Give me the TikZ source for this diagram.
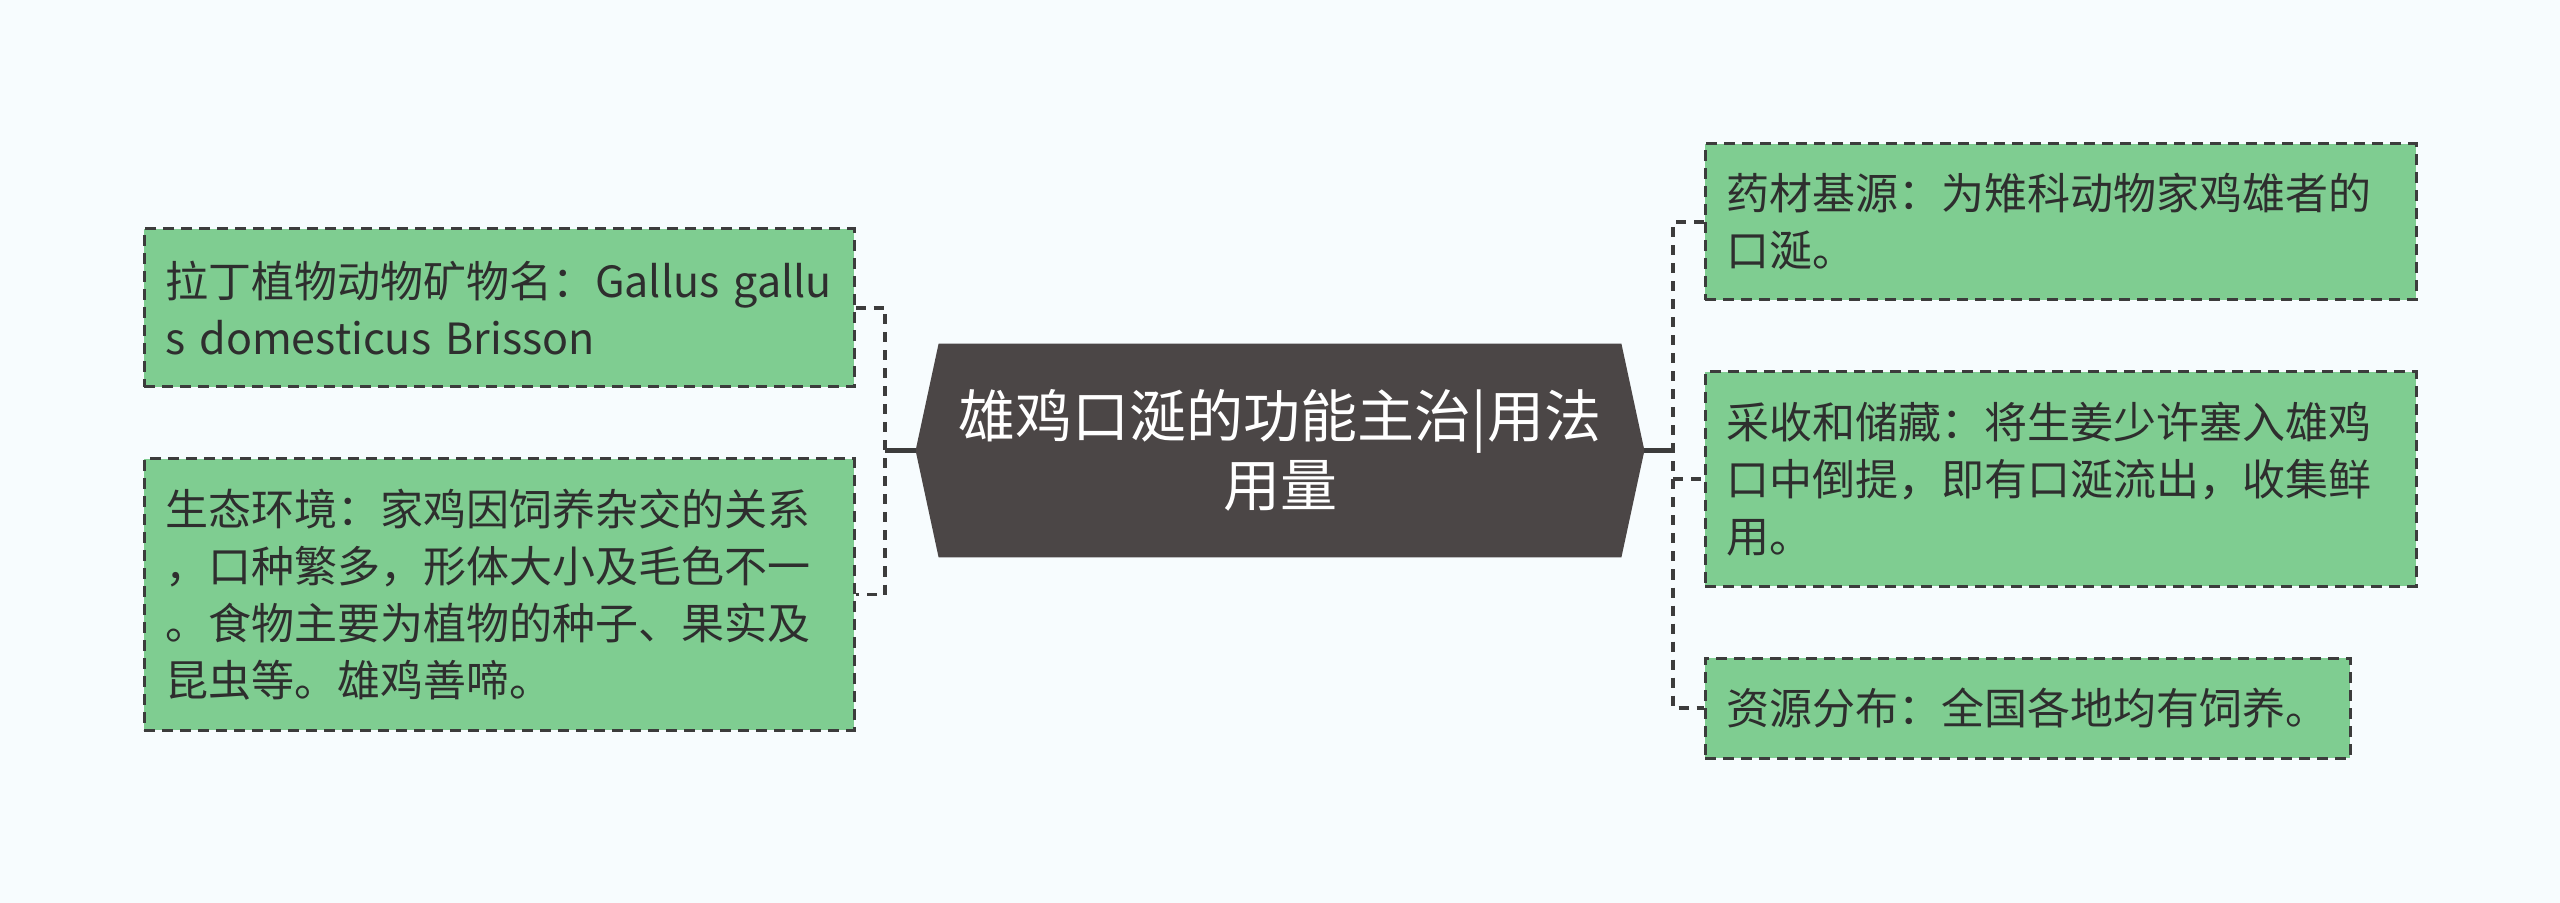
\documentclass[tikz,border=0pt]{standalone}
\usepackage{fontspec}
\setmainfont{Noto Sans CJK SC}
\usetikzlibrary{backgrounds}
\definecolor{bg}{HTML}{F7FCFE}
\definecolor{leaf}{HTML}{7FCD91}
\definecolor{hub}{HTML}{4B4646}
\definecolor{edgec}{HTML}{3C3C3C}
\definecolor{ink}{HTML}{2E2E2E}
\begin{document}
\begin{tikzpicture}[x=0.5pt,y=-0.5pt,
  leafbox/.style={draw=edgec, fill=leaf, line width=1.5pt, dash pattern=on 5.5pt off 3.5pt,
    inner xsep=10.5pt, inner ysep=0pt, align=left, text=ink,
    font=\fontsize{21.5pt}{28.5pt}\selectfont},
  hubtext/.style={inner sep=0pt, align=center, text=white,
    font=\fontsize{28.5pt}{34.5pt}\selectfont},
  bracket/.style={draw=edgec, line width=1.75pt, dash pattern=on 5pt off 4pt},
  stub/.style={draw=edgec, line width=2.25pt}
]
\useasboundingbox (0,0) rectangle (2560,903);

% hub
\node[hubtext, minimum width=364pt, minimum height=106.5pt] (c) at (1280,450.5) {雄鸡口涎的功能主治|用法\\用量};
\begin{pgfonlayer}{background}
\fill[bg] (0,0) rectangle (2560,903);
\fill[hub] ([xshift=11.5pt]c.north west) -- ([xshift=-11.5pt]c.north east) -- (c.east)
  -- ([xshift=-11.5pt]c.south east) -- ([xshift=11.5pt]c.south west) -- (c.west) -- cycle;
\end{pgfonlayer}

% left leaves
\node[leafbox, text width=334pt, minimum height=79pt] (l1) at (499,308)
  {拉丁植物动物矿物名：\mbox{Gallus gallu}\\s domesticus Brisson};
\node[leafbox, text width=334pt, minimum height=135.5pt] (l2) at (499,594.5)
  {生态环境：家鸡因饲养杂交的关系\\，口种繁多，形体大小及毛色不一\\。食物主要为植物的种子、果实及\\昆虫等。雄鸡善啼。};

% right leaves
\node[leafbox, text width=334.5pt, minimum height=78pt] (r1) at (2060.5,222)
  {药材基源：为雉科动物家鸡雄者的\\口涎。};
\node[leafbox, text width=334.5pt, minimum height=107pt] (r2) at (2060.5,479)
  {采收和储藏：将生姜少许塞入雄鸡\\口中倒提，即有口涎流出，收集鲜\\用。};
\node[leafbox, text width=301.5pt, minimum height=50pt] (r3) at (2027.5,708)
  {资源分布：全国各地均有饲养。};

% connectors left
\coordinate (lj) at (885,450.5);
\coordinate (lt) at (885,308);
\coordinate (lb) at (885,594.5);
\draw[bracket] (l1.east) -- (lt) -- (lb) -- (l2.east);
\draw[stub] (c.west) -- (lj);

% connectors right
\coordinate (rj) at (1673,450.5);
\coordinate (rt) at (1673,222);
\coordinate (rm) at (1673,479);
\coordinate (rb) at (1673,708);
\draw[bracket] (r1.west) -- (rt) -- (rb) -- (r3.west);
\draw[bracket] (rm) -- (r2.west);
\draw[stub] (c.east) -- (rj);
\end{tikzpicture}
\end{document}
